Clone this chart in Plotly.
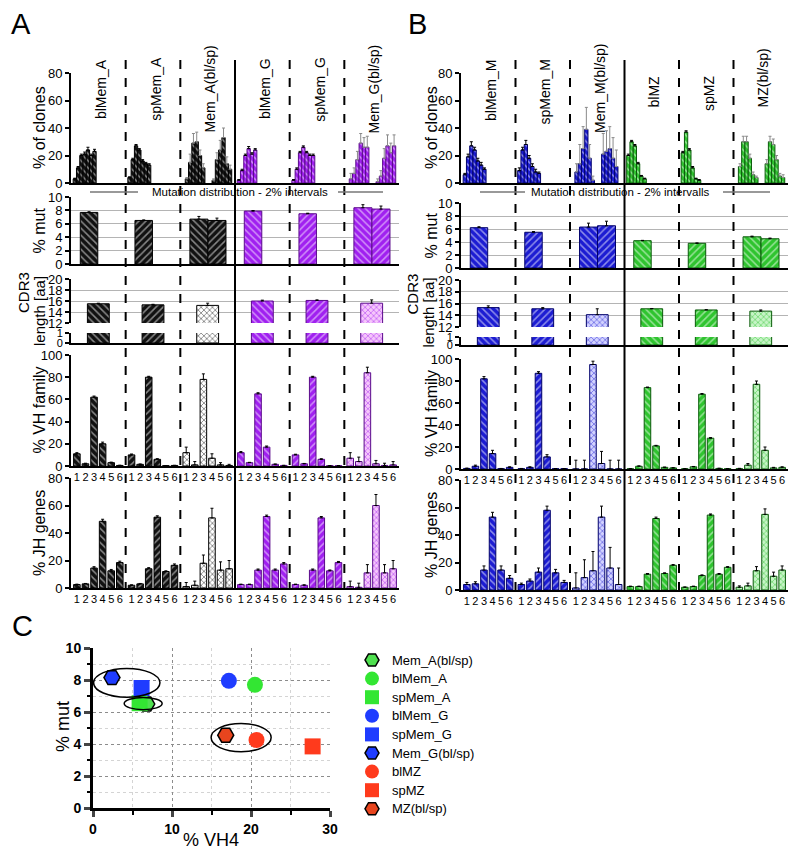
import plotly.graph_objects as go

W, H = 800, 856
OFF = 8  # page body margin offset of the embedded figure
FONT = "Liberation Sans, Arial, Helvetica, sans-serif"


def px(x):
    return (x - OFF) / W


def py(y):
    return 1 - (y - OFF) / H


# ---------------- data ----------------
groups_A = ["blMem_A", "spMem_A", "Mem_A(bl/sp)", "blMem_G", "spMem_G", "Mem_G(bl/sp)"]
groups_B = ["blMem_M", "spMem_M", "Mem_M(bl/sp)", "blMZ", "spMZ", "MZ(bl/sp)"]

# mutation distribution, 2% bins (combined groups: [bl, sp])
dist_A = [
    [3, 11, 20, 21, 24, 20, 23],
    [4, 17, 27, 24, 16, 14, 13],
    [[3, 15, 29, 30, 20, 11], [2, 17, 24, 33, 14, 10]],
    [2, 9, 20, 25, 21, 24],
    [2, 10, 22, 26, 22, 20, 20],
    [[3, 7, 17, 29, 26, 26], [1, 5, 18, 27, 22, 27]],
]
dist_A_err = [
    [0.5, 1, 1, 1.5, 2, 1, 1.5],
    [0.5, 1, 1, 1, 1, 1, 1],
    [[1, 6, 7, 7, 4, 3], [1, 5, 7, 7, 5, 3]],
    [0.5, 1, 1, 1.5, 1, 1],
    [0.5, 1, 1, 1, 1, 1, 1],
    [[4, 4, 6, 7, 7, 8], [2, 4, 7, 8, 7, 8]],
]
dist_B = [
    [6, 19, 27, 24, 16, 13, 10],
    [9, 24, 28, 18, 12, 8, 7],
    [[8, 14, 25, 39, 18, 2], [21, 23, 25, 18, 12]],
    [20, 30, 27, 14, 5, 3],
    [22, 37, 24, 11, 3, 2],
    [[12, 30, 30, 18, 6, 4], [14, 30, 28, 17, 5, 4]],
]
dist_B_err = [
    [1, 2, 3, 2, 2, 2, 1],
    [2, 2, 3, 2, 2, 2, 1],
    [[6, 14, 16, 16, 10, 3], [15, 15, 16, 15, 12]],
    [1, 1, 1, 1, 0.5, 0.5],
    [1, 1, 1, 1, 0.5, 0.5],
    [[2, 4, 4, 3, 2, 1], [3, 4, 4, 3, 2, 2]],
]

mut_A = [7.7, 6.5, [6.7, 6.5], 7.9, 7.5, [8.4, 8.2]]
mut_A_err = [0.1, 0.08, [0.4, 0.35], 0.08, 0.08, [0.45, 0.45]]
mut_B = [6.2, 5.5, [6.3, 6.5], 4.2, 3.8, [4.8, 4.5]]
mut_B_err = [0.15, 0.1, [0.6, 0.7], 0.05, 0.05, [0.1, 0.1]]

cdr3_A = [15.5, 15.3, 15.2, 16.0, 16.1, 15.6]
cdr3_A_err = [0.1, 0.1, 0.4, 0.15, 0.1, 0.6]
cdr3_B = [15.3, 15.1, 14.1, 15.1, 14.9, 14.7]
cdr3_B_err = [0.3, 0.2, 1.0, 0.05, 0.05, 0.2]

vh_labels = ["1", "2", "3", "4", "5", "6"]
vh_A = [[11, 2, 62, 20, 3, 0.5], [10, 1.5, 80, 6, 0.3, 0.5], [12, 1, 78, 7, 1, 0.5],
        [12, 3, 65, 17, 1.5, 0.5], [10, 2, 80, 6, 0.3, 0.3], [7, 4, 84, 2, 0.5, 1]]
vh_A_err = [[1, 0.5, 1, 1.5, 0.5, 0.2], [0.8, 0.3, 0.8, 0.6, 0.1, 0.1], [5, 3, 5, 4, 2, 1],
            [1, 0.3, 1, 1, 0.3, 0.1], [0.6, 0.3, 0.8, 0.5, 0.1, 0.1], [5, 4, 5, 3, 2, 3]]
vh_B = [[0.5, 2.5, 82, 14, 0.3, 1.5], [0.3, 1.5, 87, 11, 0.3, 0.3], [0, 0, 95, 5, 0, 0],
        [0.2, 2.5, 74, 21, 1.5, 1], [0.2, 2, 68, 28, 0.5, 0.3], [0.3, 3.5, 77, 17, 1, 1.5]]
vh_B_err = [[0.3, 1, 2, 3, 0.2, 0.5], [0.2, 0.5, 1.5, 2, 0.1, 0.1], [8, 8, 3, 11, 8, 8],
            [0.1, 0.3, 0.5, 0.5, 0.2, 0.2], [0.1, 0.3, 0.6, 0.5, 0.2, 0.1], [0.3, 1.5, 3, 3, 0.5, 0.5]]

jh_A = [[2.5, 3, 14.5, 48.5, 12.5, 18.5], [2, 3, 14, 51.5, 12, 16.5], [1, 2, 18, 51, 13, 14],
        [2.5, 2.5, 13, 52, 13, 17.5], [2.5, 2, 13, 51, 12.5, 18.5], [1, 0.5, 11, 60, 11, 14]]
jh_A_err = [[0.3, 0.3, 1, 1.5, 1, 1], [0.3, 0.3, 0.8, 1, 0.5, 1], [3, 3, 6, 7, 6, 6],
            [0.3, 0.3, 0.8, 1, 0.8, 1], [0.3, 0.3, 0.8, 1, 0.6, 0.8], [4, 3, 6, 8, 6, 6]]
jh_B = [[4, 4.5, 14.5, 53, 14.5, 8.5], [4, 6.5, 13, 58, 12.5, 5.5], [1.5, 9, 14, 53, 16, 4],
        [2.5, 2.5, 11.5, 52, 12, 18], [2, 2.5, 10.5, 54.5, 11.5, 16.5], [2, 3, 14, 55, 10, 14.5]]
jh_B_err = [[1.5, 1.5, 3, 3.5, 3, 2], [1, 1.5, 3, 3, 2.5, 1.5], [11, 13, 14, 8, 15, 12],
            [0.3, 0.3, 0.5, 1, 0.5, 0.5], [0.2, 0.3, 0.5, 0.8, 0.5, 0.5], [1, 2, 3, 4, 3, 3]]

# panel C
c_labels = ["Mem_A(bl/sp)", "blMem_A", "spMem_A", "blMem_G", "spMem_G", "Mem_G(bl/sp)",
            "blMZ", "spMZ", "MZ(bl/sp)"]
c_vh4 = [6.8, 20.5, 5.9, 17.2, 6.15, 2.4, 20.7, 27.8, 16.8]
c_mut = [6.5, 7.7, 6.55, 7.95, 7.5, 8.15, 4.25, 3.85, 4.55]
c_colors = ["#4fe04f", "#33e633", "#33e633", "#1f3cff", "#1f3cff", "#1f3cff",
            "#ff3a1c", "#ff3a1c", "#e8451e"]
c_symbols = ["hexagon2", "circle", "square", "circle", "square", "hexagon2",
             "circle", "square", "hexagon2"]
c_ellipse_members = [[5, 4], [2, 0], [8, 6]]

# ---------------- styles ----------------
panel_style = {
    "A": dict(base=["#111111"] * 3 + ["#a020f0"] * 3,
              edge=["#000000"] * 3 + ["#5a0a8a"] * 3,
              light=["#ffffff"] * 3 + ["#f6c6fb"] * 3),
    "B": dict(base=["#1c1cd2"] * 3 + ["#2fc42f"] * 3,
              edge=["#00006a"] * 3 + ["#0a5a0a"] * 3,
              light=["#d2d2ff"] * 3 + ["#c6f4c6"] * 3),
}


def hatch(p, gi, shape):
    st = panel_style[p]
    return dict(color=st["base"][gi], line=dict(color=st["edge"][gi], width=1),
                pattern=dict(shape=shape, fgcolor="white", bgcolor=st["base"][gi],
                             size=5, solidity=0.3))


def checker(p, gi):
    st = panel_style[p]
    return dict(color=st["light"][gi], line=dict(color=st["edge"][gi], width=1),
                pattern=dict(shape="x", fgcolor=st["base"][gi], bgcolor=st["light"][gi],
                             size=4, solidity=0.4))


def single_shape(gi):
    return "\\" if gi % 3 == 0 else "/"


def suf(n):
    return "" if n == 1 else str(n)


fig = go.Figure()
layout = dict(width=W, height=H, margin=dict(l=0, r=0, t=0, b=0, pad=0, autoexpand=False),
              paper_bgcolor="white", plot_bgcolor="white",
              font=dict(family=FONT, color="black"), barmode="overlay",
              shapes=[], annotations=[], showlegend=False)


def ann(text, x, y, size, angle=0, xref="paper", yref="paper", xanchor="center", **kw):
    layout["annotations"].append(dict(text=text, x=x, y=y, xref=xref, yref=yref,
                                      textangle=angle, showarrow=False, font=dict(size=size),
                                      xanchor=xanchor, yanchor="middle", **kw))


def add_bar(n, xs, ys, errs, width, mk, ecolor="black"):
    kw = {}
    if errs is not None:
        kw["error_y"] = dict(type="data", array=errs, arrayminus=[0] * len(ys),
                             symmetric=False, color=ecolor, thickness=1, width=1.5)
    fig.add_trace(go.Bar(x=xs, y=ys, width=width, xaxis="x" + suf(n), yaxis="y" + suf(n),
                         marker=mk, showlegend=False, hoverinfo="skip", **kw))


def yax(dom, rng, tickvals, grid=False, line=True, fs=13):
    return dict(domain=[py(dom[0]), py(dom[1])], range=rng, tickvals=tickvals,
                showline=line, linewidth=2, linecolor="black", ticks="outside", ticklen=4,
                tickwidth=2, tickcolor="black", tickfont=dict(size=fs),
                showgrid=grid, gridcolor="#b4b4b4", gridwidth=1, zeroline=False,
                fixedrange=True, automargin=False)


def xax(xd, line=True, tickvals=None, ticktext=None):
    d = dict(domain=[px(xd[0]), px(xd[1])], range=[0, 6], showline=line, linewidth=2,
             linecolor="black", showgrid=False, zeroline=False, ticks="",
             fixedrange=True, automargin=False)
    if tickvals is None:
        d["showticklabels"] = False
    else:
        d.update(tickvals=tickvals, ticktext=ticktext, tickfont=dict(size=11))
    return d


panels = [
    dict(p="A", base=1, xd=(71, 399), groups=groups_A,
         rows=dict(dist=(183, 73), mut=(264, 197), hi=(323, 279), lo=(343, 333),
                   vh=(466, 355), jh=(588, 478)),
         dist=dist_A, dist_err=dist_A_err, mut=mut_A, mut_err=mut_A_err,
         cdr=cdr3_A, cdr_err=cdr3_A_err, vh=vh_A, vh_err=vh_A_err, jh=jh_A, jh_err=jh_A_err,
         title_x=39, cdr_x=(24, 39), letter=("A", 21, 24), label_y=[89] * 6,
         mtext=("Mutation distribution - 2% intervals", 240, 192, (90, 138), (338, 383))),
    dict(p="B", base=7, xd=(461, 788), groups=groups_B,
         rows=dict(dist=(183, 73), mut=(268, 203), hi=(327, 280), lo=(345, 337),
                   vh=(469, 359), jh=(590, 480)),
         dist=dist_B, dist_err=dist_B_err, mut=mut_B, mut_err=mut_B_err,
         cdr=cdr3_B, cdr_err=cdr3_B_err, vh=vh_B, vh_err=vh_B_err, jh=jh_B, jh_err=jh_B_err,
         title_x=431, cdr_x=(412, 428), letter=("B", 418, 24), label_y=[90, 92, 88, 91, 93, 78],
         mtext=("Mutation distribution - 2% intervalls", 620, 192, (480, 525), (723, 770))),
]

BIN = 0.06
VH_SP = 0.157

for P in panels:
    p, b, xd, R = P["p"], P["base"], P["xd"], P["rows"]
    n_dist, n_mut, n_hi, n_lo, n_vh, n_jh = b, b + 1, b + 2, b + 3, b + 4, b + 5
    cat_vals = [gi + 0.5 + (k - 2.5) * VH_SP for gi in range(6) for k in range(6)]
    cat_text = vh_labels * 6
    layout["xaxis" + suf(n_dist)] = dict(xax(xd), anchor="y" + suf(n_dist))
    layout["yaxis" + suf(n_dist)] = dict(yax(R["dist"], [0, 80], [0, 20, 40, 60, 80]), anchor="x" + suf(n_dist))
    layout["xaxis" + suf(n_mut)] = dict(xax(xd), anchor="y" + suf(n_mut))
    layout["yaxis" + suf(n_mut)] = dict(yax(R["mut"], [0, 10], [0, 2, 4, 6, 8, 10], grid=True), anchor="x" + suf(n_mut))
    layout["xaxis" + suf(n_hi)] = dict(xax(xd, line=False), anchor="y" + suf(n_hi))
    layout["yaxis" + suf(n_hi)] = dict(yax(R["hi"], [12, 20], [12, 14, 16, 18, 20], grid=True), anchor="x" + suf(n_hi))
    layout["xaxis" + suf(n_lo)] = dict(xax(xd), anchor="y" + suf(n_lo))
    layout["yaxis" + suf(n_lo)] = dict(yax(R["lo"], [0, 1], [0, 1], fs=11), anchor="x" + suf(n_lo))
    layout["xaxis" + suf(n_vh)] = dict(xax(xd, tickvals=cat_vals, ticktext=cat_text), anchor="y" + suf(n_vh))
    layout["yaxis" + suf(n_vh)] = dict(yax(R["vh"], [0, 100], [0, 20, 40, 60, 80, 100]), anchor="x" + suf(n_vh))
    layout["xaxis" + suf(n_jh)] = dict(xax(xd, tickvals=cat_vals, ticktext=cat_text), anchor="y" + suf(n_jh))
    layout["yaxis" + suf(n_jh)] = dict(yax(R["jh"], [0, 80], [0, 20, 40, 60, 80]), anchor="x" + suf(n_jh))

    for gi in range(6):
        comb = gi % 3 == 2
        d, de = P["dist"][gi], P["dist_err"][gi]
        if comb:
            for si, off in enumerate([0.09, 0.58]):
                xs = [gi + off + BIN / 2 + k * BIN for k in range(len(d[si]))]
                add_bar(n_dist, xs, d[si], de[si], BIN, hatch(p, gi, "\\"), ecolor="#8a8a8a")
        else:
            xs = [gi + 0.04 + BIN / 2 + k * BIN for k in range(len(d))]
            add_bar(n_dist, xs, d, de, BIN, hatch(p, gi, "\\"))
        m, me = P["mut"][gi], P["mut_err"][gi]
        if comb:
            add_bar(n_mut, [gi + 0.34], [m[0]], [me[0]], 0.33, hatch(p, gi, "\\"))
            add_bar(n_mut, [gi + 0.67], [m[1]], [me[1]], 0.33, hatch(p, gi, "/"))
        else:
            add_bar(n_mut, [gi + 0.33], [m], [me], 0.32, hatch(p, gi, single_shape(gi)))
        mk = checker(p, gi) if comb else hatch(p, gi, single_shape(gi))
        add_bar(n_hi, [gi + 0.5], [P["cdr"][gi]], [P["cdr_err"][gi]], 0.4, mk)
        add_bar(n_lo, [gi + 0.5], [P["cdr"][gi]], None, 0.4, mk)
        xs = [gi + 0.5 + (k - 2.5) * VH_SP for k in range(6)]
        add_bar(n_vh, xs, P["vh"][gi], P["vh_err"][gi], 0.12, mk)
        add_bar(n_jh, xs, P["jh"][gi], P["jh_err"][gi], 0.12, mk)

        ann(P["groups"][gi], gi + 0.55, py(P["label_y"][gi]), 14, angle=-90,
            xref="x" + suf(n_dist))

    for sep in [1, 2, 3, 4, 5]:
        layout["shapes"].append(dict(
            type="line", xref="x" + suf(n_dist), yref="paper", x0=sep, x1=sep,
            y0=py(60), y1=py(R["jh"][0]),
            line=dict(color="black", width=2, dash="solid" if sep == 3 else "dash")))

    tx = P["title_x"]
    for txt, key in [("% of clones", "dist"), ("% mut", "mut"), ("% VH family", "vh"), ("% JH genes", "jh")]:
        yc = (R[key][0] + R[key][1]) / 2
        ann(txt, px(tx), py(yc), 16, angle=-90)
    cyc = (R["hi"][1] + R["lo"][0]) / 2
    ann("CDR3", px(P["cdr_x"][0]), py(cyc - 18), 15, angle=-90)
    ann("length [aa]", px(P["cdr_x"][1]), py(cyc), 15, angle=-90)
    mt, mx, my, l1, l2 = P["mtext"]
    ann(mt, px(mx), py(my), 11.5)
    for l in (l1, l2):
        layout["shapes"].append(dict(type="line", xref="paper", yref="paper", x0=px(l[0]), x1=px(l[1]),
                                     y0=py(my), y1=py(my), line=dict(color="#777777", width=1.5)))
    L, lx, ly = P["letter"]
    ann(L, px(lx), py(ly), 29)

# ---------------- panel C ----------------
NC = 13
for i in range(len(c_labels)):
    hexa = c_symbols[i].startswith("hexagon")
    fig.add_trace(go.Scatter(
        x=[c_vh4[i]], y=[c_mut[i]], mode="markers", name=c_labels[i],
        xaxis="x" + suf(NC), yaxis="y" + suf(NC), hoverinfo="skip", showlegend=False,
        marker=dict(symbol=c_symbols[i], color=c_colors[i], size=16,
                    line=dict(color="black" if hexa else c_colors[i], width=1.5 if hexa else 0))))

layout["xaxis" + suf(NC)] = dict(
    domain=[px(93), px(330)], range=[0, 30], tickvals=[0, 10, 20, 30], anchor="y" + suf(NC),
    showline=True, linewidth=3, linecolor="black", ticks="outside", ticklen=6, tickwidth=2.5,
    tickfont=dict(size=14, weight="bold"), showgrid=True, gridcolor="#8c8c8c", griddash="dot",
    gridwidth=1, zeroline=False, fixedrange=True, automargin=False,
    minor=dict(tickvals=[5, 15, 25], ticks="outside", ticklen=4, tickwidth=2, tickcolor="black",
               showgrid=True, gridcolor="#d4d4d4", gridwidth=1))
layout["yaxis" + suf(NC)] = dict(
    domain=[py(808), py(648)], range=[0, 10], tickvals=[0, 2, 4, 6, 8, 10], anchor="x" + suf(NC),
    showline=True, linewidth=3, linecolor="black", ticks="outside", ticklen=6, tickwidth=2.5,
    tickfont=dict(size=14, weight="bold"), showgrid=True, gridcolor="#8c8c8c", griddash="dot",
    gridwidth=1, zeroline=False, fixedrange=True, automargin=False,
    minor=dict(dtick=1, ticks="outside", ticklen=3, tickwidth=1.5, tickcolor="black",
               showgrid=True, gridcolor="#d4d4d4", gridwidth=1))

ell_half = [(4.2, 0.9), (2.4, 0.38), (3.8, 0.88)]
for members, (hx, hy) in zip(c_ellipse_members, ell_half):
    cx = sum(c_vh4[m] for m in members) / len(members)
    cy = sum(c_mut[m] for m in members) / len(members)
    layout["shapes"].append(dict(type="circle", xref="x" + suf(NC), yref="y" + suf(NC),
                                 x0=cx - hx, x1=cx + hx, y0=cy - hy, y1=cy + hy,
                                 line=dict(color="black", width=1.5)))

ann("% VH4", px(211), py(840), 18)
ann("% mut", px(63), py(727), 18, angle=-90)
ann("C", px(22), py(626), 29)

# ---------------- legend for panel C (drawn on a pixel-scaled helper axis) ----------------
NL = 14
LEG_X0, LEG_X1, LEG_Y0, LEG_Y1 = 355, 560, 650, 820
leg_marker_x, leg_text_x, leg_top, leg_step = 372, 390, 660, 18.6
layout["xaxis" + suf(NL)] = dict(domain=[px(LEG_X0), px(LEG_X1)], range=[LEG_X0, LEG_X1],
                                 visible=False, fixedrange=True, anchor="y" + suf(NL))
layout["yaxis" + suf(NL)] = dict(domain=[py(LEG_Y1), py(LEG_Y0)], range=[LEG_Y1, LEG_Y0],
                                 visible=False, fixedrange=True, anchor="x" + suf(NL))
leg_y = [leg_top + i * leg_step for i in range(len(c_labels))]
fig.add_trace(go.Scatter(
    x=[leg_marker_x] * len(c_labels), y=leg_y, mode="markers", showlegend=False, hoverinfo="skip",
    xaxis="x" + suf(NL), yaxis="y" + suf(NL),
    marker=dict(symbol=c_symbols, color=c_colors, size=14,
                line=dict(color=["black" if s.startswith("hexagon") else c for s, c in zip(c_symbols, c_colors)],
                          width=[1.5 if s.startswith("hexagon") else 0 for s in c_symbols]))))
for lab, yy in zip(c_labels, leg_y):
    ann(lab, leg_text_x, yy, 13, xref="x" + suf(NL), yref="y" + suf(NL), xanchor="left")

fig.update_layout(**layout)
fig.write_html("out.html")
